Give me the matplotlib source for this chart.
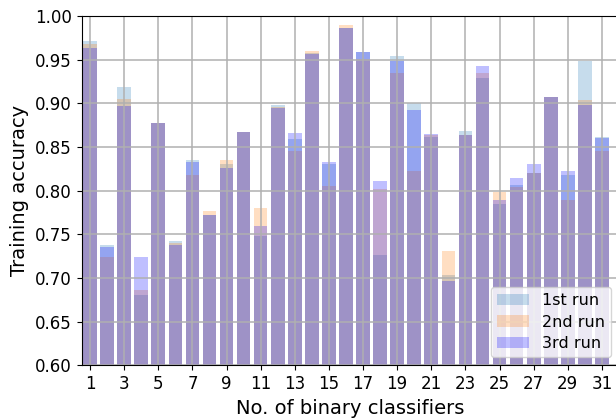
import matplotlib
matplotlib.use("Agg")
import matplotlib.pyplot as plt
import numpy as np

# --- data ---
classifiers = np.arange(1, 32)
run1 = [0.971, 0.738, 0.919, 0.681, 0.878, 0.742, 0.835, 0.772, 0.831, 0.867,
        0.748, 0.898, 0.859, 0.958, 0.831, 0.986, 0.959, 0.726, 0.954, 0.900,
        0.862, 0.703, 0.868, 0.929, 0.785, 0.807, 0.820, 0.907, 0.818, 0.948,
        0.861]
run2 = [0.968, 0.724, 0.905, 0.686, 0.878, 0.740, 0.818, 0.777, 0.835, 0.867,
        0.780, 0.896, 0.845, 0.960, 0.805, 0.990, 0.951, 0.802, 0.935, 0.822,
        0.864, 0.731, 0.864, 0.935, 0.798, 0.804, 0.820, 0.907, 0.789, 0.904,
        0.845]
run3 = [0.963, 0.736, 0.897, 0.724, 0.878, 0.738, 0.833, 0.772, 0.826, 0.867,
        0.760, 0.895, 0.866, 0.956, 0.833, 0.986, 0.959, 0.811, 0.948, 0.892,
        0.865, 0.696, 0.864, 0.943, 0.789, 0.815, 0.830, 0.907, 0.822, 0.898,
        0.860]
labels = ["1st run", "2nd run", "3rd run"]
colors = ["tab:blue", "tab:orange", "blue"]

fig = plt.figure(figsize=(6.16, 4.19), dpi=100)
# axes run slightly past the right edge, as in the cropped original
ax = fig.add_axes([81.5 / 616, 1 - 365.3 / 419, (619 - 81.5) / 616, (365.3 - 16) / 419])

for vals, lab, col in zip([run1, run2, run3], labels, colors):
    ax.bar(classifiers, vals, width=0.8, color=col, alpha=0.25, label=lab)

ax.set_xlim(0.5, 32)
ax.set_ylim(0.6, 1.0)
ax.set_xticks(np.arange(1, 32, 2))
ax.set_yticks(np.arange(0.60, 1.001, 0.05))
ax.set_yticklabels([f"{v:.2f}" for v in np.arange(0.60, 1.001, 0.05)])
ax.tick_params(labelsize=12)
ax.grid(True, color="#b0b0b0", linewidth=1.1)
ax.spines["right"].set_visible(False)

ax.set_xlabel("No. of binary classifiers", fontsize=14)
ax.set_ylabel("Training accuracy", fontsize=14)
ax.legend(loc="lower right", fontsize=11.5, labelspacing=0.4)

fig.savefig("out.png", dpi=100)
